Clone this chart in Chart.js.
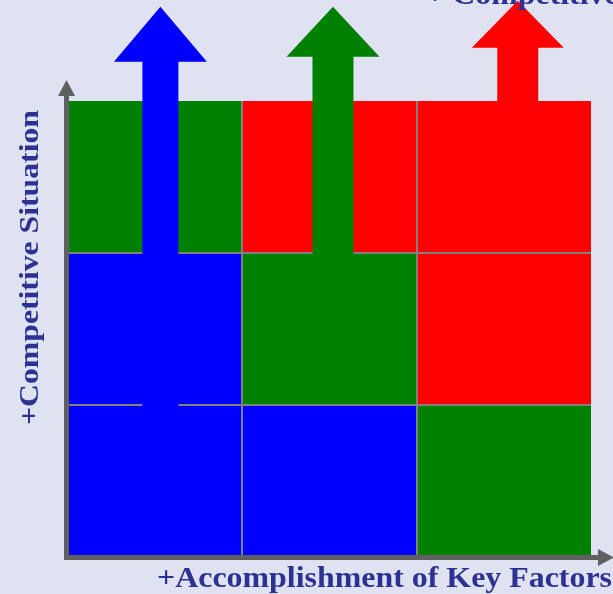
<!DOCTYPE html>
<html>
<head>
<meta charset="utf-8">
<script src="https://cdn.jsdelivr.net/npm/chart.js@4"></script>
<style>
  html, body { margin: 0; padding: 0; background: #dfe2f1; }
  canvas { display: block; }
</style>
</head>
<body>
<canvas id="matrix" width="613" height="594"></canvas>
<script>
// Column centres on the "accomplishment of key factors" axis (0..3)
const columns = [0.5, 1.5, 2.5];
// Height of each band on the "competitive situation" axis
const rowUnits = [1, 1, 1];
// Rating of every cell, per row from bottom to top (0 = low, 1 = medium, 2 = high)
const rowBottom = [0, 0, 1];
const rowMiddle = [0, 1, 2];
const rowTop    = [1, 2, 2];
// Upward arrows: column position, where the shaft starts and where the tip ends
const arrowX    = [0.53, 1.52, 2.58];
const arrowFrom = [0.98, 1.98, 2.98];
const arrowTo   = [3.62, 3.62, 3.66];
const arrowRating = [0, 1, 2];

const xTitle = '+Accomplishment of Key Factors';
const yTitle = '+Competitive Situation';
const topNote = '+ Competitiveness';

const palette = ['#0000ff', '#008000', '#ff0000'];
const gridColor = '#808080';
const axisColor = '#606060';
const textColor = '#2d3192';

const rows = [rowBottom, rowMiddle, rowTop];
const datasets = rows.map((ratings, r) => ({
  data: columns.map(x => ({ x, y: rowUnits[r] })),
  backgroundColor: ratings.map(k => palette[k]),
  borderWidth: 0,
  barPercentage: 1,
  categoryPercentage: 1
}));

// arrow styling (pixels)
const headLen = [55, 50, 47];
const headWidth = [93, 93, 92];
const shaftWidth = [36, 41, 41];

const overlay = {
  id: 'overlay',
  afterDraw(chart) {
    const { ctx, chartArea: a, scales: { x, y } } = chart;
    ctx.save();

    // vertical arrows rising out of the matrix
    arrowX.forEach((v, i) => {
      const cx = x.getPixelForValue(v);
      const yb = y.getPixelForValue(arrowFrom[i]);
      const yt = y.getPixelForValue(arrowTo[i]);
      const hb = yt + headLen[i];
      const s = shaftWidth[i] / 2, h = headWidth[i] / 2;
      ctx.fillStyle = palette[arrowRating[i]];
      ctx.beginPath();
      ctx.moveTo(cx - s, yb);
      ctx.lineTo(cx - s, hb);
      ctx.lineTo(cx - h, hb);
      ctx.lineTo(cx, yt);
      ctx.lineTo(cx + h, hb);
      ctx.lineTo(cx + s, hb);
      ctx.lineTo(cx + s, yb);
      ctx.closePath();
      ctx.fill();
    });

    // axis lines with arrowheads
    ctx.fillStyle = axisColor;
    const ax = a.left - 1.5;
    const ay = a.bottom + 0.5;
    ctx.fillRect(ax - 2.5, a.top - 5, 5, ay + 2.5 - (a.top - 5));
    ctx.beginPath();
    ctx.moveTo(ax - 8.5, a.top - 5);
    ctx.lineTo(ax, a.top - 21);
    ctx.lineTo(ax + 8.5, a.top - 5);
    ctx.closePath();
    ctx.fill();
    ctx.fillRect(ax - 2.5, ay - 2.5, a.right + 7 - (ax - 2.5), 5);
    ctx.beginPath();
    ctx.moveTo(a.right + 7, ay - 8.5);
    ctx.lineTo(a.right + 23, ay);
    ctx.lineTo(a.right + 7, ay + 8.5);
    ctx.closePath();
    ctx.fill();

    // titles
    ctx.fillStyle = textColor;
    ctx.textBaseline = 'alphabetic';
    ctx.font = 'bold 30px "Liberation Serif", "Times New Roman", serif';
    const sx = 455 / ctx.measureText(xTitle).width;
    ctx.textAlign = 'left';
    ctx.save();
    ctx.translate(157, 587);
    ctx.scale(sx, 1);
    ctx.fillText(xTitle, 0, 0);
    ctx.restore();

    ctx.save();
    ctx.translate(426, 4);
    ctx.scale(sx, 1);
    ctx.fillText(topNote, 0, 0);
    ctx.restore();

    ctx.font = 'bold 27px "Liberation Serif", "Times New Roman", serif';
    const sy = 315 / ctx.measureText(yTitle).width;
    ctx.save();
    ctx.translate(38, 267.5);
    ctx.rotate(-Math.PI / 2);
    ctx.scale(sy, 1);
    ctx.textAlign = 'center';
    ctx.fillText(yTitle, 0, 0);
    ctx.restore();

    ctx.restore();
  }
};

const innerLine = ctx => (ctx.tick && (ctx.tick.value === 1 || ctx.tick.value === 2)) ? gridColor : 'rgba(0,0,0,0)';

new Chart(document.getElementById('matrix'), {
  type: 'bar',
  data: { datasets },
  options: {
    responsive: false,
    animation: false,
    layout: { padding: { left: 68, right: 22, top: 101, bottom: 37 } },
    plugins: { legend: { display: false }, tooltip: { enabled: false } },
    scales: {
      x: {
        type: 'linear', min: 0, max: 3, stacked: true, offset: false,
        ticks: { display: false, stepSize: 1 },
        grid: { offset: false, drawTicks: false, color: innerLine, lineWidth: 2, z: 1 },
        border: { display: false }
      },
      y: {
        type: 'linear', min: 0, max: 3, stacked: true,
        ticks: { display: false, stepSize: 1 },
        grid: { drawTicks: false, color: innerLine, lineWidth: 2, z: 1 },
        border: { display: false }
      }
    }
  },
  plugins: [overlay]
});
</script>
</body>
</html>
